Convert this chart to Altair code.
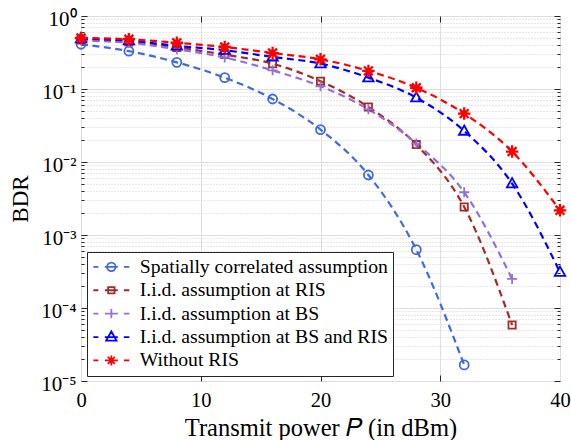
import altair as alt
import pandas as pd

# ---------------- data ----------------
P = [0, 4, 8, 12, 16, 20, 24, 28, 32, 36, 40]
series = [
    "Spatially correlated assumption",
    "I.i.d. assumption at RIS",
    "I.i.d. assumption at BS",
    "I.i.d. assumption at BS and RIS",
    "Without RIS",
]
bdr_spatial = [0.41, 0.33, 0.232, 0.143, 0.073, 0.0278, 0.00664, 6.3e-4, 1.66e-5]
bdr_iid_ris = [0.47, 0.44, 0.37, 0.296, 0.222, 0.128, 0.0567, 0.0173, 0.00242, 5.85e-5]
bdr_iid_bs = [0.46, 0.43, 0.35, 0.27, 0.18, 0.109, 0.0527, 0.0179, 0.00385, 2.5e-4]
bdr_iid_both = [0.49, 0.46, 0.39, 0.34, 0.275, 0.223, 0.143, 0.076, 0.0266, 0.00506, 3.1e-4]
bdr_no_ris = [0.50, 0.48, 0.43, 0.376, 0.311, 0.255, 0.177, 0.104, 0.046, 0.0139, 0.00218]
all_vals = [bdr_spatial, bdr_iid_ris, bdr_iid_bs, bdr_iid_both, bdr_no_ris]

x_ticks = [0, 10, 20, 30, 40]
x_inner_ticks = [10, 20, 30]
y_exps = [0, -1, -2, -3, -4, -5]

# ---------------- styles ----------------
colors = ["#4169E1", "#A52A2A", "#9370DB", "#0000FF", "#FF0000"]
FONT = "Liberation Serif"
AXC = "#262626"
W, H = 479, 365

plot_paths = [
    "M0.9,0A0.9,0.9,0,1,1,-0.9,0A0.9,0.9,0,1,1,0.9,0",
    "M-0.72,-0.72H0.72V0.72H-0.72Z",
    "M-1,0H1M0,-1V1",
    "M0,-1.1L1.05,0.75H-1.05Z",
    "M-1.25,0H1.25M0,-1.25V1.25M-0.88,-0.88L0.88,0.88M-0.88,0.88L0.88,-0.88",
]
stroke_widths = [1.8, 1.8, 1.8, 1.8, 2.3]

# legend symbols: dashed line + marker, designed in pixels, normalised to symbol units
LEG_SIZE = 289            # sqrt = 17 -> unit = 8.5 px
U = 8.5
C = -1 + 18 / U           # marker centre (symbol's left edge is at -1)


def f(v):
    return f"{v:.3f}"


def px(x, y):
    return f"{f(C + x / U)},{f(y / U)}"


dash_px = f"M{px(-18, 0)}H{f(C - 13 / U)}M{px(-6.5, 0)}H{f(C + 6.5 / U)}M{px(12.5, 0)}H{f(C + 18 / U)}"
legend_marks = [
    f"M{px(4.3, 0)}A{f(4.3 / U)},{f(4.3 / U)},0,1,1,{px(-4.3, 0)}A{f(4.3 / U)},{f(4.3 / U)},0,1,1,{px(4.3, 0)}",
    f"M{px(-3.2, -3.2)}H{f(C + 3.2 / U)}V{f(3.2 / U)}H{f(C - 3.2 / U)}Z",
    f"M{px(-4.7, 0)}H{f(C + 4.7 / U)}M{px(0, -4.7)}V{f(4.7 / U)}",
    f"M{px(0, -5.6)}L{px(5.2, 3.6)}H{f(C - 5.2 / U)}Z",
    f"M{px(-5, 0)}H{f(C + 5 / U)}M{px(0, -5)}V{f(5 / U)}M{px(-3.5, -3.5)}L{px(3.5, 3.5)}M{px(-3.5, 3.5)}L{px(3.5, -3.5)}",
]
legend_paths = [dash_px + m for m in legend_marks]

rows = []
for name, vals in zip(series, all_vals):
    for p, v in zip(P, vals):
        rows.append({"P": p, "BDR": v, "series": name})
df = pd.DataFrame(rows)

y_major = [10.0 ** e for e in y_exps]
y_minor = [k * 10.0 ** e for e in range(-5, 0) for k in range(2, 10)]

sup = str.maketrans("-0123456789", "⁻⁰¹²³⁴⁵⁶⁷⁸⁹")
label_expr = ""
for e in y_exps:
    label_expr += f"abs(log(datum.value)/LN10 - ({e})) < 0.01 ? '10{str(e).translate(sup)}' : "
label_expr += "''"

xs = alt.Scale(domain=[0, 40], nice=False, zero=False)
ys = alt.Scale(type="log", domain=[1e-5, 1], nice=False)
cs = alt.Scale(domain=series, range=colors)


def ax(**kw):
    base = dict(title=None, labels=False, ticks=False, domain=False, grid=False)
    base.update(kw)
    return alt.Axis(**base)


def inward(orient, values, size):
    return ax(orient=orient, values=values, ticks=True, tickSize=size,
              offset=-size, tickColor=AXC, tickWidth=1)


x_main_axis = alt.Axis(
    orient="bottom", title="Transmit power 𝑃 (in dBm)", values=x_ticks,
    labels=True, ticks=False, tickSize=0, domain=False, grid=True,
    gridColor="#dedede", gridWidth=1, labelFont=FONT, labelFontSize=20.5,
    labelColor="black", labelPadding=9, labelFlush=False,
    titleFont=FONT, titleFontSize=24.5, titleFontWeight="normal", titleColor="black",
    titleX=W / 2, titleY=54, titleBaseline="alphabetic",
)
y_main_axis = alt.Axis(
    orient="left", title="BDR", values=y_major, labelExpr=label_expr,
    labels=True, ticks=False, tickSize=0, domain=False, grid=True,
    gridColor="#dedede", gridWidth=1, labelFont=FONT, labelFontSize=21,
    labelColor="black", labelPadding=5, labelOffset=3, labelBound=False,
    labelOverlap=False,
    titleFont=FONT, titleFontSize=23, titleFontWeight="normal", titleColor="black",
    titleX=-61, titleY=H / 2, titleBaseline="middle",
)

base = alt.Chart(df)

line_layers = []
point_layers = []
for i, (name, path, col, sw) in enumerate(zip(series, plot_paths, colors, stroke_widths)):
    sub = base.transform_filter(alt.datum.series == name)
    line_layers.append(
        sub.mark_line(strokeDash=[7, 4.5], strokeWidth=2.2, interpolate="monotone", color=col)
        .encode(
            x=alt.X("P:Q", scale=xs, axis=x_main_axis if i == 0 else None),
            y=alt.Y("BDR:Q", scale=ys, axis=y_main_axis if i == 0 else None),
        )
    )
    point_layers.append(
        sub.mark_point(shape=path, size=100, filled=False, strokeWidth=sw, color=col, opacity=1)
        .encode(x=alt.X("P:Q", scale=xs, axis=None), y=alt.Y("BDR:Q", scale=ys, axis=None))
    )

leg_kw = dict(
    title=None, orient="none", legendX=6, legendY=236, strokeColor=AXC, fillColor="white",
    padding=5, labelFont=FONT, labelFontSize=19.7, labelColor="black", labelLimit=500,
    symbolSize=LEG_SIZE, symbolStrokeWidth=1.8, symbolOpacity=1, rowPadding=2.4,
    labelOffset=28, cornerRadius=0,
)
legend_layer = base.mark_point(opacity=0, filled=False).encode(
    x=alt.X("P:Q", scale=xs, axis=None),
    y=alt.Y("BDR:Q", scale=ys, axis=None),
    color=alt.Color("series:N", scale=cs, legend=alt.Legend(**leg_kw)),
    shape=alt.Shape("series:N", scale=alt.Scale(domain=series, range=legend_paths),
                    legend=alt.Legend(**leg_kw)),
)


def axis_layer(xaxis, yaxis):
    return base.mark_point(opacity=0).encode(
        x=alt.X("P:Q", scale=xs, axis=xaxis),
        y=alt.Y("BDR:Q", scale=ys, axis=yaxis),
    )


grid_minor = axis_layer(None, ax(orient="left", values=y_minor, grid=True, gridColor="#c4c4c4",
                                 gridDash=[1, 2], gridWidth=0.8))
ticks1 = axis_layer(inward("top", x_inner_ticks, 6), inward("left", y_major, 6))
ticks2 = axis_layer(inward("bottom", x_inner_ticks, 6), inward("right", y_major, 6))
ticks3 = axis_layer(None, inward("left", y_minor, 3))
ticks4 = axis_layer(None, inward("right", y_minor, 3))

chart = alt.layer(
    grid_minor, *line_layers, *point_layers, legend_layer, ticks1, ticks2, ticks3, ticks4
).resolve_axis(x="independent", y="independent").properties(
    width=W, height=H, autosize="none",
    padding={"left": 81, "top": 16, "right": 11, "bottom": 59},
).configure_view(stroke=AXC, strokeWidth=1.2).configure(background="white")

chart.save("out.html", embed_options={"renderer": "svg", "actions": False})
